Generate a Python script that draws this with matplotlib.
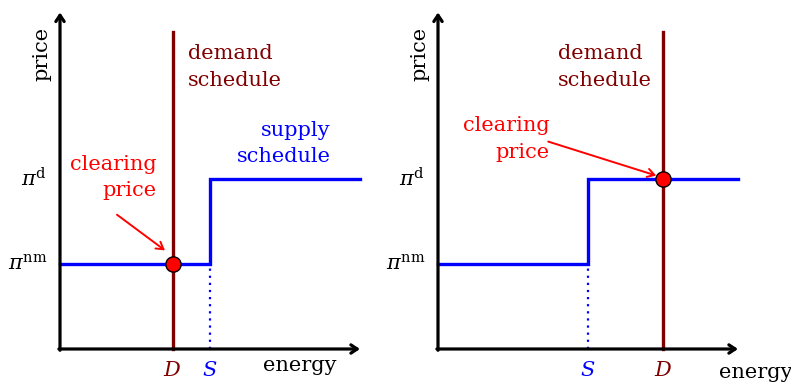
import matplotlib.pyplot as plt

# prices (y) and quantities (x) in arbitrary units
pi_nm = 1.0
pi_d = 2.0
supply_end = 4.0
demand_top = 3.73
axis_x_end = 4.0
axis_y_end = 3.96

# left panel: demand below supply step, right panel: demand above it
S_left, D_left = 2.0, 1.5
S_right, D_right = 2.0, 3.0

DARKRED = '#800000'
BLUE = '#0000ff'
RED = '#ff0000'

plt.rcParams['font.family'] = ['DejaVu Serif']
plt.rcParams['mathtext.fontset'] = 'dejavuserif'

fig = plt.figure(figsize=(7.91, 3.86), dpi=100)

# 75 px per x unit, 85 px per y unit
W, H = 791, 386
def make_ax(left_px, right_px, origin_x_px):
    ax = fig.add_axes([left_px / W, 0, (right_px - left_px) / W, 1])
    ax.set_xlim(-(origin_x_px - left_px) / 75, (right_px - origin_x_px) / 75)
    ax.set_ylim(-(H - 349) / 85, 349 / 85)
    ax.axis('off')
    return ax


def draw_panel(ax, S, D):
    # axes with arrows
    arrow = dict(arrowstyle='->,head_length=0.45,head_width=0.3', lw=2.3, color='black',
                 shrinkA=0, shrinkB=0)
    ax.annotate('', xy=(axis_x_end, 0), xytext=(-0.015, 0), arrowprops=arrow)
    ax.annotate('', xy=(0, axis_y_end), xytext=(0, -0.015), arrowprops=arrow)

    # dotted guide under the step
    ax.plot([S, S], [0, pi_nm], color=BLUE, lw=1.6, ls=(0, (1, 2.2)))
    # supply schedule
    ax.plot([0, S, S, supply_end], [pi_nm, pi_nm, pi_d, pi_d], color=BLUE, lw=2.4,
            solid_joinstyle='miter')
    # demand schedule
    ax.plot([D, D], [0, demand_top], color=DARKRED, lw=2.4)

    # clearing point
    clear_y = pi_nm if D < S else pi_d
    ax.plot([D], [clear_y], 'o', ms=11, mfc='red', mec='black', mew=1.0, zorder=5)

    # tick labels
    ax.text(-0.17, pi_nm, r'$\pi^{\mathrm{nm}}$', ha='right', va='center', fontsize=15)
    ax.text(-0.17, pi_d, r'$\pi^{\mathrm{d}}$', ha='right', va='center', fontsize=15)
    ax.text(D, -0.25, r'$D$', ha='center', va='center', fontsize=15, color=DARKRED)
    ax.text(S, -0.25, r'$S$', ha='center', va='center', fontsize=15, color=BLUE)
    ax.text(-0.24, 3.47, 'price', rotation=90, ha='center', va='center', fontsize=15)
    return clear_y


LS = 1.5

# left panel
axL = make_ax(0, 395, 60)
draw_panel(axL, S_left, D_left)
axL.text(D_left + 0.21, 3.32, 'demand\nschedule', ha='left', va='center',
         fontsize=15, color=DARKRED, linespacing=LS)
axL.text(3.61, 2.42, 'supply\nschedule', ha='right', va='center', multialignment='right',
         fontsize=15, color=BLUE, linespacing=LS)
axL.text(1.29, 2.02, 'clearing\nprice', ha='right', va='center', multialignment='right',
         fontsize=15, color=RED, linespacing=LS)
axL.annotate('', xy=(1.40, 1.16), xytext=(0.76, 1.58),
             arrowprops=dict(arrowstyle='->,head_length=0.5,head_width=0.3', color=RED, lw=1.4,
                             shrinkA=0, shrinkB=0))
axL.text(3.2, -0.19, 'energy', ha='center', va='center', fontsize=15)

# right panel
axR = make_ax(395, 791, 438)
draw_panel(axR, S_right, D_right)
axR.text(D_right - 1.4, 3.32, 'demand\nschedule', ha='left', va='center',
         fontsize=15, color=DARKRED, linespacing=LS)
axR.text(1.49, 2.47, 'clearing\nprice', ha='right', va='center', multialignment='right',
         fontsize=15, color=RED, linespacing=LS)
axR.annotate('', xy=(2.91, 2.04), xytext=(1.47, 2.44),
             arrowprops=dict(arrowstyle='->,head_length=0.5,head_width=0.3', color=RED, lw=1.4,
                             shrinkA=0, shrinkB=0))
axR.text(4.23, -0.28, 'energy', ha='center', va='center', fontsize=15)

fig.savefig('out.png', dpi=100)
